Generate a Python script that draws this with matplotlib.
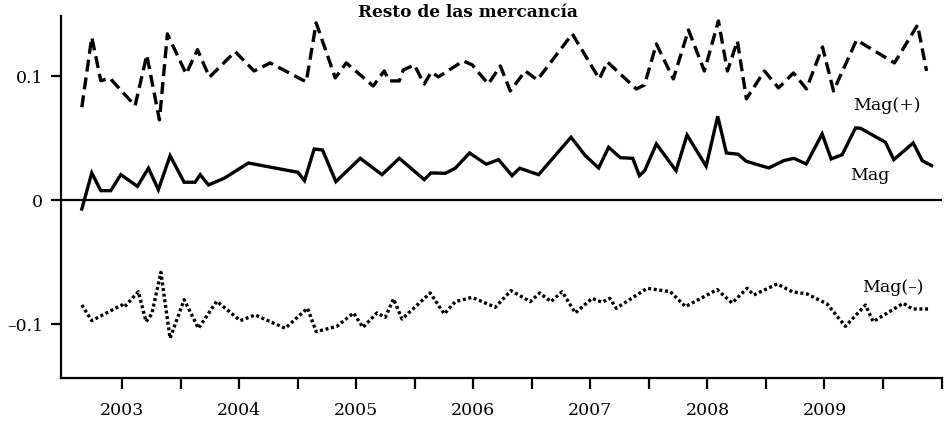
import matplotlib
matplotlib.use("Agg")
import matplotlib.pyplot as plt

plt.rcParams['font.family'] = ['DejaVu Serif']

title = "Resto de las mercancía"

# Mag (solid)
mag_dates = [2002.656, 2002.741, 2002.818, 2002.903, 2002.989, 2003.131, 2003.225, 2003.310,
             2003.410, 2003.530, 2003.624, 2003.667, 2003.738, 2003.872, 2004.079, 2004.502,
             2004.558, 2004.641, 2004.712, 2004.826, 2005.034, 2005.220, 2005.368, 2005.581,
             2005.638, 2005.761, 2005.846, 2005.968, 2006.111, 2006.216, 2006.331, 2006.396,
             2006.558, 2006.835, 2006.957, 2007.071, 2007.156, 2007.256, 2007.362, 2007.419,
             2007.464, 2007.564, 2007.732, 2007.826, 2007.989, 2008.088, 2008.162, 2008.262,
             2008.331, 2008.524, 2008.652, 2008.738, 2008.844, 2008.980, 2009.057, 2009.151,
             2009.265, 2009.308, 2009.521, 2009.592, 2009.758, 2009.835, 2009.915]
mag = [-0.0073, 0.0218, 0.0075, 0.0075, 0.0204, 0.0110, 0.0256, 0.0083,
       0.0357, 0.0143, 0.0143, 0.0204, 0.0121, 0.0175, 0.0298, 0.0223,
       0.0156, 0.0411, 0.0403, 0.0148, 0.0336, 0.0204, 0.0336, 0.0164,
       0.0218, 0.0215, 0.0256, 0.0379, 0.0288, 0.0325, 0.0196, 0.0256,
       0.0204, 0.0506, 0.0357, 0.0258, 0.0425, 0.0341, 0.0336, 0.0196,
       0.0236, 0.0452, 0.0236, 0.0524, 0.0272, 0.0675, 0.0379, 0.0369,
       0.0312, 0.0258, 0.0317, 0.0336, 0.0290, 0.0532, 0.0331, 0.0365,
       0.0581, 0.0578, 0.0465, 0.0325, 0.0460, 0.0317, 0.0277]

# Mag(+) (dashed)
plus_dates = [2002.656, 2002.741, 2002.818, 2002.897, 2003.111, 2003.211, 2003.319, 2003.387,
              2003.547, 2003.644, 2003.746, 2003.966, 2004.128, 2004.265, 2004.573, 2004.658,
              2004.821, 2004.915, 2005.145, 2005.239, 2005.282, 2005.368, 2005.402, 2005.496,
              2005.581, 2005.641, 2005.701, 2005.915, 2005.991, 2006.128, 2006.231, 2006.316,
              2006.444, 2006.547, 2006.846, 2007.077, 2007.145, 2007.393, 2007.462, 2007.564,
              2007.709, 2007.838, 2007.974, 2008.094, 2008.171, 2008.256, 2008.333, 2008.487,
              2008.607, 2008.735, 2008.846, 2008.983, 2009.077, 2009.274, 2009.598, 2009.795,
              2009.872]
mag_plus = [0.0748, 0.1312, 0.0962, 0.0981, 0.0760, 0.1169, 0.0645, 0.1339,
            0.1016, 0.1212, 0.0990, 0.1196, 0.1040, 0.1105, 0.0952, 0.1427,
            0.0984, 0.1105, 0.0919, 0.1040, 0.0960, 0.0960, 0.1048, 0.1089,
            0.0935, 0.1032, 0.0992, 0.1121, 0.1089, 0.0935, 0.1081, 0.0879,
            0.1040, 0.0968, 0.1339, 0.0976, 0.1113, 0.0895, 0.0927, 0.1258,
            0.0976, 0.1371, 0.1040, 0.1444, 0.1040, 0.1282, 0.0815, 0.1040,
            0.0903, 0.1024, 0.0895, 0.1234, 0.0879, 0.1290, 0.1105, 0.1411,
            0.1040]

# Mag(-) (dotted)
minus_dates = [2002.656, 2002.741, 2002.997, 2003.017, 2003.139, 2003.205, 2003.254, 2003.331,
               2003.410, 2003.530, 2003.652, 2003.809, 2004.009, 2004.137, 2004.393, 2004.584,
               2004.658, 2004.835, 2004.977, 2005.057, 2005.177, 2005.248, 2005.319, 2005.391,
               2005.632, 2005.752, 2005.846, 2005.989, 2006.188, 2006.322, 2006.487, 2006.567,
               2006.664, 2006.758, 2006.872, 2007.015, 2007.100, 2007.165, 2007.222, 2007.485,
               2007.684, 2007.812, 2008.083, 2008.211, 2008.339, 2008.396, 2008.596, 2008.724,
               2008.852, 2009.023, 2009.179, 2009.350, 2009.416, 2009.673, 2009.750, 2009.891]
mag_minus = [-0.0847, -0.0973, -0.0847, -0.0865, -0.0740, -0.0981, -0.0919, -0.0583,
             -0.1115, -0.0804, -0.1035, -0.0817, -0.0973, -0.0927, -0.1035, -0.0873,
             -0.1062, -0.1019, -0.0911, -0.1027, -0.0911, -0.0946, -0.0798, -0.0960,
             -0.0750, -0.0919, -0.0820, -0.0785, -0.0865, -0.0731, -0.0820, -0.0750,
             -0.0820, -0.0740, -0.0911, -0.0793, -0.0825, -0.0793, -0.0873, -0.0712,
             -0.0740, -0.0860, -0.0723, -0.0831, -0.0712, -0.0766, -0.0677, -0.0740,
             -0.0758, -0.0839, -0.1019, -0.0847, -0.0981, -0.0833, -0.0879, -0.0879]

year_ticks = [2003, 2004, 2005, 2006, 2007, 2008, 2009]
half_ticks = [2003.5, 2004.5, 2005.5, 2006.5, 2007.5, 2008.5, 2009.5, 2010]
y_ticks = [-0.1, 0, 0.1]
y_labels = ["–0.1", "0", "0.1"]

fig = plt.figure(figsize=(9.48, 4.27), dpi=100)
ax = fig.add_axes([0.0647, 0.1117, 0.9285, 0.8478])

ax.plot(mag_dates, mag, color='black', lw=2.4, solid_joinstyle='miter')
ax.plot(plus_dates, mag_plus, color='black', lw=2.4, linestyle=(0, (3.6, 1.8)))
ax.plot(minus_dates, mag_minus, color='black', lw=2.4, linestyle=(0, (0.9, 0.8)))
ax.axhline(0, color='black', lw=1.6)

ax.set_xlim(2002.481, 2010.0)
ax.set_ylim(-0.1438, 0.1481)

ax.set_xticks(year_ticks)
ax.set_xticklabels([str(y) for y in year_ticks])
ax.set_xticks(half_ticks, minor=True)
ax.set_yticks(y_ticks)
ax.set_yticklabels(y_labels)
ax.tick_params(axis='x', which='both', length=8, width=1.6, labelsize=12.5, pad=8)
ax.tick_params(axis='y', length=7, width=1.6, labelsize=12.5, pad=6)

for s in ['top', 'right']:
    ax.spines[s].set_visible(False)
for s in ['left', 'bottom']:
    ax.spines[s].set_linewidth(1.6)

ax.text(2009.222, 0.0169, "Mag", fontsize=12.5, ha='left', va='baseline')
ax.text(2009.248, 0.0734, "Mag(+)", fontsize=12.5, ha='left', va='baseline')
ax.text(2009.325, -0.0734, "Mag(–)", fontsize=12.5, ha='left', va='baseline')

fig.text(0.494, 0.9696, title, fontsize=12.2, fontweight='bold', ha='center', va='center')

fig.savefig("out.png", dpi=100)
